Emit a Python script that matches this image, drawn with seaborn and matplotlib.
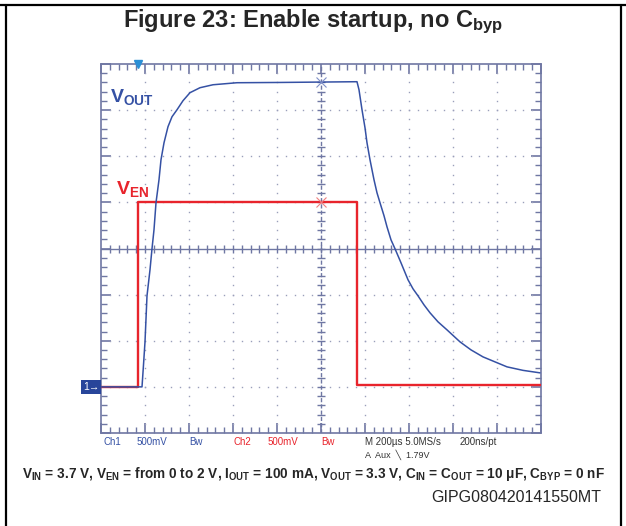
import numpy as np
import pandas as pd
import matplotlib
matplotlib.use("Agg")
import matplotlib.pyplot as plt
from matplotlib.lines import Line2D
import seaborn as sns

# ---- data (time in µs, voltage in V) ----
vout_t = [-1000, -813.6, -806.8, -800, -790.9, -777.3, -768.2, -759.1, -750, -736.4,
          -727.3, -713.6, -695.5, -677.3, -654.5, -627.3, -595.5, -550, -490.9, -381.8,
          -186, 163.6, 172.7, 186.4, 200, 209.1, 222.7, 240.9, 254.5, 268.2, 286.4, 300,
          318.2, 336.4, 363.6, 395.5, 418.2, 440.9, 468.2, 495.5, 531.8, 572.7, 631.8,
          681.8, 736.4, 790.9, 845.5, 918.2, 995.5]
vout_v = [0.0, 0.0, 0.239, 0.488, 0.987, 1.269, 1.497, 1.703, 1.996, 2.245,
          2.462, 2.646, 2.820, 2.928, 3.004, 3.102, 3.189, 3.243, 3.275, 3.297,
          3.30, 3.308, 3.221, 3.004, 2.809, 2.646, 2.462, 2.245, 2.104, 1.996, 1.855, 1.735,
          1.594, 1.497, 1.345, 1.161, 1.063, 0.987, 0.889, 0.803, 0.705, 0.618, 0.488,
          0.401, 0.325, 0.271, 0.217, 0.179, 0.152]
ven_t = [-1000, -834, -834, 165, 165, 1000]
ven_v = [0.0, 0.0, 2.0, 2.0, 0.02, 0.02]

xdivs = 10
ydivs = 8
x_range = (-1000, 1000)
y_range = (-0.5, 3.5)

scope_labels = ["Ch1", "500mV", "Bw", "Ch2", "500mV", "Bw", "M 200\u00b5s 5.0MS/s", "200ns/pt"]
title = r"Figure 23: Enable startup, no C$_{\mathbf{byp}}$"
caption = (r"$\mathbf{V_{IN}}$ = 3.7 V, $\mathbf{V_{EN}}$ = from 0 to 2 V, $\mathbf{I_{OUT}}$ = 100 mA, "
           r"$\mathbf{V_{OUT}}$ = 3.3 V, $\mathbf{C_{IN}}$ = $\mathbf{C_{OUT}}$ = 10 $\mathbf{\mu}$F, "
           r"$\mathbf{C_{BYP}}$ = 0 nF")
code = "GIPG080420141550MT"

BLUE = "#3551a4"
RED = "#e8242c"
GRID = "#9a9fbb"
FRAME = "#6f77a3"

sns.set_theme(style="white")
plt.rcParams["font.family"] = ["Liberation Sans", "DejaVu Sans"]
plt.rcParams["mathtext.fontset"] = "custom"
plt.rcParams["mathtext.rm"] = "Liberation Sans"
plt.rcParams["mathtext.it"] = "Liberation Sans:italic"
plt.rcParams["mathtext.bf"] = "Liberation Sans:bold"

W, H = 626, 526
fig = plt.figure(figsize=(W / 100, H / 100), dpi=100)
L, R, T, B = 101, 541, 64, 433
ax = fig.add_axes([L / W, 1 - B / H, (R - L) / W, (B - T) / H])

df_out = pd.DataFrame({"t": vout_t, "v": vout_v})
df_en = pd.DataFrame({"t": ven_t, "v": ven_v})

ax.set_xlim(*x_range)
ax.set_ylim(*y_range)

xstep = (x_range[1] - x_range[0]) / xdivs
ystep = (y_range[1] - y_range[0]) / ydivs

# dotted graticule: dots every 1/5 division
for i in range(1, xdivs):
    xv = x_range[0] + i * xstep
    if i == xdivs // 2:
        continue
    ys = np.linspace(y_range[0], y_range[1], ydivs * 5 + 1)[1:-1]
    ax.plot([xv] * len(ys), ys, ls="none", marker="s", ms=1.0, color=GRID, mec="none", zorder=1)
for j in range(1, ydivs):
    yv = y_range[0] + j * ystep
    if j == ydivs // 2:
        continue
    xs = np.linspace(x_range[0], x_range[1], xdivs * 5 + 1)[1:-1]
    ax.plot(xs, [yv] * len(xs), ls="none", marker="s", ms=1.0, color=GRID, mec="none", zorder=1)

# center axes with tick marks
xc = 0.5 * (x_range[0] + x_range[1])
yc = 0.5 * (y_range[0] + y_range[1])
ax.axhline(yc, color=FRAME, lw=1.0, zorder=1)
ax.axvline(xc, color=FRAME, lw=1.0, ls=(0, (3, 1.5)), zorder=1)
xs = np.linspace(x_range[0], x_range[1], xdivs * 5 + 1)[1:-1]
ys = np.linspace(y_range[0], y_range[1], ydivs * 5 + 1)[1:-1]
ax.plot(xs, [yc] * len(xs), ls="none", marker="|", ms=6, mew=1.0, color=FRAME, zorder=1)
ax.plot([xc] * len(ys), ys, ls="none", marker="_", ms=6, mew=1.0, color=FRAME, zorder=1)

# traces
sns.lineplot(data=df_en, x="t", y="v", ax=ax, color=RED, lw=1.7, estimator=None, sort=False, zorder=3)
sns.lineplot(data=df_out, x="t", y="v", ax=ax, color=BLUE, lw=1.1, estimator=None, sort=False, zorder=4)

# cursor markers at the trigger position
ax.plot([xc], [3.31], marker="x", ms=7, color="#8090c8", mew=0.8, zorder=5)
ax.plot([xc], [2.0], marker="x", ms=7, color="#f08080", mew=0.8, zorder=5)

# frame and ticks
for s in ax.spines.values():
    s.set_color(FRAME)
    s.set_linewidth(1.2)
ax.set_xticks(np.linspace(x_range[0], x_range[1], xdivs + 1))
ax.set_yticks(np.linspace(y_range[0], y_range[1], ydivs + 1))
ax.set_xticks(xs, minor=True)
ax.set_yticks(ys, minor=True)
ax.tick_params(which="both", direction="in", top=True, right=True, bottom=True, left=True,
               labelbottom=False, labelleft=False, color=FRAME)
ax.tick_params(which="major", length=7, width=1.2)
ax.tick_params(which="minor", length=4, width=1.0)
ax.set_xlabel("")
ax.set_ylabel("")
ax.grid(False)

# trigger marker at top
ax.plot([-832], [y_range[1]], marker="v", ms=6, color="#2a8fd6", clip_on=False, zorder=6)

# channel ground marker
fig.text(83 / W, 1 - 387 / H, "1\u2192", color="white", fontsize=7.5, va="center", ha="left",
         bbox=dict(boxstyle="square,pad=0.2", fc="#28459a", ec="none"))

# trace labels
fig.text(110 / W, 1 - 102 / H, r"V$_{\mathbf{OUT}}$", color=BLUE, fontsize=14, fontweight="bold",
         ha="left", va="baseline")
fig.text(116 / W, 1 - 194 / H, r"V$_{\mathbf{EN}}$", color=RED, fontsize=14, fontweight="bold",
         ha="left", va="baseline")

# scope status line
pos = [103, 137, 189, 233, 268, 321, 365, 460]
cols = [BLUE, BLUE, BLUE, RED, RED, RED, "#333333", "#333333"]
for p, lab, c in zip(pos, scope_labels, cols):
    fig.text(p / W, 1 - 442 / H, lab, color=c, fontsize=7, ha="left", va="center")
fig.text(365 / W, 1 - 455 / H, "A  Aux  \u2572  1.79V", color="#333333", fontsize=6.5, ha="left", va="center")

# title, caption, code
fig.text(313 / W, 1 - 22 / H, title, fontsize=17, fontweight="bold", ha="center", va="center")
fig.text(313 / W, 1 - 474 / H, caption, fontsize=9.8, fontweight="bold", ha="center", va="center")
fig.text(601 / W, 1 - 498 / H, code, fontsize=11.5, ha="right", va="center")

# page frame
fig.add_artist(Line2D([0, 1], [1 - 5 / H] * 2, color="black", lw=1.6, transform=fig.transFigure))
fig.add_artist(Line2D([5.5 / W] * 2, [0, 1 - 5 / H], color="black", lw=1.6, transform=fig.transFigure))
fig.add_artist(Line2D([621 / W] * 2, [0, 1 - 5 / H], color="black", lw=1.6, transform=fig.transFigure))

fig.savefig("out.png", dpi=100)
